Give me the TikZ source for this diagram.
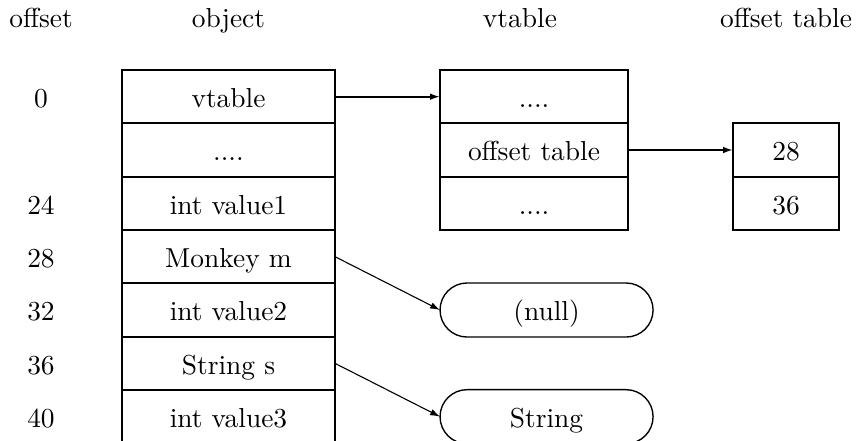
\documentclass[tikz,border=0pt]{standalone}
\usepackage{tikz}
\usetikzlibrary{calc,positioning,shapes.misc,arrows.meta}

\begin{document}
\begin{tikzpicture}[thick,
  objcell/.style={draw, rectangle, outer sep=0pt, inner sep=0pt, minimum width=2.728cm, minimum height=0.683cm, text height=8pt, text depth=0pt},
  vtcell/.style={objcell, minimum width=2.407cm},
  otcell/.style={objcell, minimum width=1.357cm},
  pill/.style={draw, rounded rectangle, line width=0.5pt, outer sep=0pt, inner sep=0pt, minimum width=2.728cm, minimum height=0.692cm, text height=8pt, text depth=0pt},
  ptr/.style={line width=0.7pt, -{Latex[length=3.6pt,width=2.4pt]}},
  offlabel/.style={text height=8pt, text depth=0pt},
  header/.style={anchor=base}]

% Page frame, the object runs on below it
\clip (0,0) rectangle (11,-5.647);

% Object
\node[objcell] (objvtable) at (2.926,-1.238) {vtable};
\node[objcell, below=0pt of objvtable] (objdots) {....};
\node[objcell, below=0pt of objdots] (value1) {int value1};
\node[objcell, below=0pt of value1] (monkey) {Monkey m};
\node[objcell, below=0pt of monkey] (value2) {int value2};
\node[objcell, below=0pt of value2] (strs) {String s};
\node[objcell, below=0pt of strs] (value3) {int value3};

% Vtable
\node[vtcell, right=1.345cm of objvtable] (vttop) {....};
\node[vtcell, below=0pt of vttop] (vtoffset) {offset table};
\node[vtcell, below=0pt of vtoffset] (vtbottom) {....};

% Offset table
\node[otcell, right=1.345cm of vtoffset] (ot28) {28};
\node[otcell, below=0pt of ot28] (ot36) {36};

% Referenced objects
\node[pill, right=1.345cm of value2] (nullnode) {(null)};
\node[pill, right=1.345cm of value3] (stringnode) {String};

% Pointers
\draw[ptr] (objvtable.east) -- (vttop.west);
\draw[ptr] (vtoffset.east) -- (ot28.west);
\draw[ptr, thin] (monkey.east) -- (nullnode.west);
\draw[ptr, thin] (strs.east) -- (stringnode.west);

% Offsets
\node[offlabel] (off0) at ($(objvtable.west)+(-1.037,0)$) {0};
\node[offlabel] (off24) at ($(value1.west)+(-1.037,0)$) {24};
\node[offlabel] (off28) at ($(monkey.west)+(-1.037,0)$) {28};
\node[offlabel] (off32) at ($(value2.west)+(-1.037,0)$) {32};
\node[offlabel] (off36) at ($(strs.west)+(-1.037,0)$) {36};
\node[offlabel] (off40) at ($(value3.west)+(-1.037,0)$) {40};

% Headers
\node[header] (hoffset) at ($(off0)+(0,0.892)$) {offset};
\node[header] (hobject) at ($(objvtable)+(0,0.892)$) {object};
\node[header] (hvtable) at ($(vttop)+(-0.18,0.892)$) {vtable};
\node[header] (hottable) at ($(ot28)+(0,1.575)$) {offset table};
\end{tikzpicture}
\end{document}
